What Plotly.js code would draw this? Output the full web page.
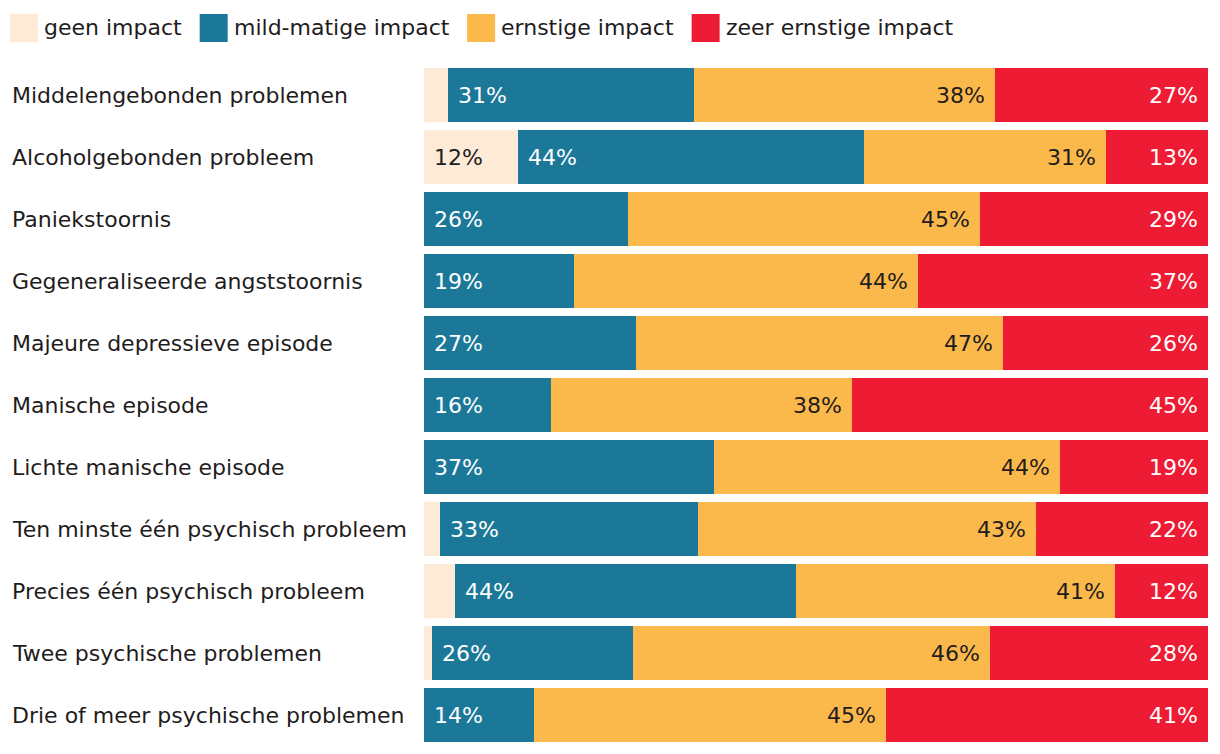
<!DOCTYPE html>
<html>
<head>
<meta charset="utf-8">
<script src="https://cdn.plot.ly/plotly-3.0.1.min.js"></script>
<style>
  html, body { margin: 0; padding: 0; background: #ffffff; }
  #chart { width: 1220px; height: 754px; }
</style>
</head>
<body>
<div id="chart"></div>
<script>
// ---- data ----
const categories = [
  "Middelengebonden problemen",
  "Alcoholgebonden probleem",
  "Paniekstoornis",
  "Gegeneraliseerde angststoornis",
  "Majeure depressieve episode",
  "Manische episode",
  "Lichte manische episode",
  "Ten minste één psychisch probleem",
  "Precies één psychisch probleem",
  "Twee psychische problemen",
  "Drie of meer psychische problemen"
];
const seriesNames = ["geen impact", "mild-matige impact", "ernstige impact", "zeer ernstige impact"];
const geen    = [3.1, 12.0, 0, 0, 0, 0, 0, 2.0, 4.0, 1.0, 0];
const mild    = [31.4, 44.1, 26.0, 19.1, 27.0, 16.2, 37.0, 32.9, 43.5, 25.7, 14.0];
const ernstig = [38.3, 30.9, 44.9, 43.9, 46.9, 38.4, 44.1, 43.1, 40.6, 45.5, 44.9];
const zeer    = [27.2, 13.0, 29.1, 37.0, 26.1, 45.4, 18.9, 22.0, 11.9, 27.8, 41.1];

// ---- styling ----
const FONTNAME = "DejaVu Sans";
const FONT = "'DejaVu Sans', sans-serif";
const FS = 22;
const WEIGHT = 400;
const DARK = "#1f1c1d";
const colors = ["#fdebd8", "#1c7898", "#fbb84b", "#ed1b33"];
const labelColors = [DARK, "#ffffff", DARK, "#ffffff"];
const anchors = ["start", "start", "end", "end"];
const series = [geen, mild, ernstig, zeer];

const W = 1220, H = 754;
const M = {l: 424, r: 12, t: 64, b: 8};
const plotH = H - M.t - M.b;
const fnt = (c) => ({family: FONT, size: FS, color: c, weight: WEIGHT});

const traces = series.map((vals, i) => ({
  type: "bar",
  orientation: "h",
  name: seriesNames[i],
  y: categories,
  x: vals,
  marker: {color: colors[i], line: {width: 0}},
  hoverinfo: "skip",
  showlegend: false
}));

const annotations = [];
// category labels, left aligned
categories.forEach(c => {
  annotations.push({
    xref: "paper", yref: "y", x: 0, y: c, xanchor: "left", yanchor: "middle",
    xshift: 10 - M.l, yshift: 0, text: c, showarrow: false,
    font: fnt(DARK)
  });
});
// value labels
categories.forEach((c, r) => {
  let cum = 0;
  series.forEach((vals, i) => {
    const v = vals[r];
    const start = cum, end = cum + v;
    cum = end;
    if (v < 5) return;
    const txt = Math.round(v) + "%";
    const isStart = anchors[i] === "start";
    annotations.push({
      xref: "x", yref: "y", x: isStart ? start : end, y: c,
      xanchor: isStart ? "left" : "right", yanchor: "middle",
      xshift: isStart ? 8 : -8, yshift: 0, text: txt, showarrow: false,
      font: fnt(labelColors[i])
    });
  });
});

// custom legend (28px squares)
const shapes = [];
const ctx = document.createElement("canvas").getContext("2d");
ctx.font = WEIGHT + " " + FS + "px '" + FONTNAME + "'";
let lx = 10;
const legendYpx = 27.5; // center from top
const legendYpaper = 1 + (M.t - legendYpx) / plotH;
seriesNames.forEach((nm, i) => {
  shapes.push({
    type: "rect", xref: "paper", yref: "paper",
    xsizemode: "pixel", ysizemode: "pixel", xanchor: 0, yanchor: 1,
    x0: lx - M.l, x1: lx + 28 - M.l,
    y0: M.t - 42, y1: M.t - 14,
    fillcolor: colors[i], line: {width: 0}
  });
  annotations.push({
    xref: "paper", yref: "paper", x: 0, y: legendYpaper,
    xanchor: "left", yanchor: "middle", xshift: lx + 32 - M.l,
    text: nm, showarrow: false,
    font: fnt(DARK)
  });
  lx += 28 + 6 + ctx.measureText(nm).width + 18;
});

const layout = {
  width: W, height: H,
  margin: M,
  barmode: "stack",
  bargap: 8 / 62,
  paper_bgcolor: "#ffffff",
  plot_bgcolor: "#ffffff",
  showlegend: false,
  xaxis: {range: [0, 100], visible: false, fixedrange: true},
  yaxis: {autorange: "reversed", showticklabels: false, showgrid: false, zeroline: false, showline: false, ticks: "", fixedrange: true},
  annotations: annotations,
  shapes: shapes,
  font: {family: FONT, size: FS, color: DARK}
};

Plotly.newPlot("chart", traces, layout, {displayModeBar: false, staticPlot: true});
</script>
</body>
</html>
